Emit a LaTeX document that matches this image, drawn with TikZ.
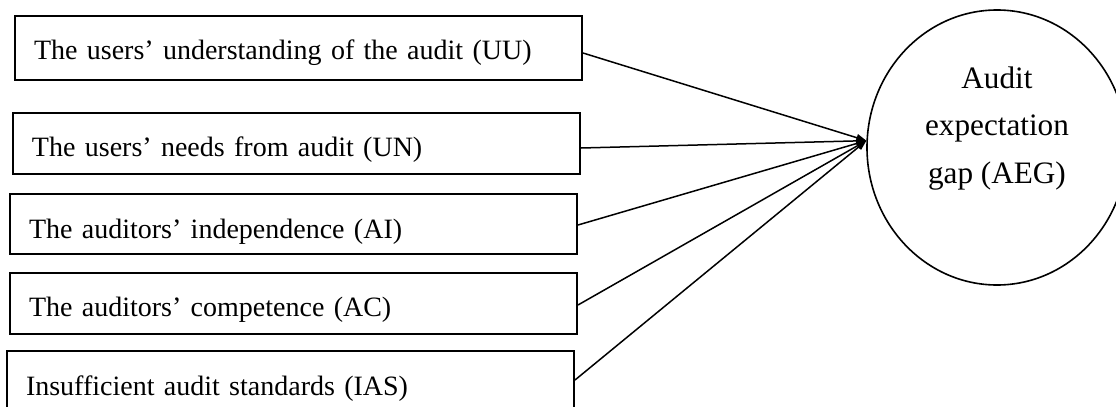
\documentclass[tikz,border=0pt]{standalone}
\usepackage{fontspec}
\setmainfont{Liberation Serif}
\usetikzlibrary{arrows.meta,shapes.geometric}
\tikzset{
  factorbox/.style={draw=black, line width=1pt, anchor=north west,
                    minimum width=283.5pt, text width=264.5pt,
                    inner xsep=9.5pt, inner ysep=0pt, align=left,
                    font=\fontsize{14pt}{17pt}\selectfont},
  gapcircle/.style={draw=black, line width=0.8pt, ellipse,
                    minimum width=130pt, minimum height=137.5pt, inner sep=0pt,
                    text height=12pt, text depth=71.5pt,
                    font=\fontsize{15.6pt}{23.75pt}\selectfont},
  flow/.style={-{Triangle[length=5pt,width=3.6pt]}, line width=0.75pt},
}
\begin{document}
\begin{tikzpicture}[x=0.5pt,y=-0.5pt]
  \useasboundingbox (0,0) rectangle (1116,407);

  % Factors on the left.
  \node[factorbox, text height=22pt, text depth=10pt] (UU) at (14,15)
    {The users’ understanding of the audit (UU)};
  \node[factorbox, text height=21.5pt, text depth=9pt] (UN) at (12,112)
    {The users’ needs from audit (UN)};
  \node[factorbox, text height=22pt, text depth=8pt] (AI) at (9,193)
    {The auditors’ independence (AI)};
  \node[factorbox, text height=21.5pt, text depth=9pt] (AC) at (9,272)
    {The auditors’ competence (AC)};
  \node[factorbox, text height=22pt, text depth=9pt] (IAS) at (6,350)
    {Insufficient audit standards (IAS)};

  % Dependent construct.
  \node[gapcircle] (AEG) at (997,147.5)
    {\begin{tabular}[t]{@{}c@{}}Audit\\expectation\\gap (AEG)\end{tabular}};

  \draw[flow] ([yshift=-19pt]UU.north east) -- (AEG.177);
  \draw[flow] ([yshift=-18pt]UN.north east) -- (AEG.177);
  \draw[flow] ([yshift=-16pt]AI.north east) -- (AEG.177);
  \draw[flow] ([yshift=-16.5pt]AC.north east) -- (AEG.177);
  \draw[flow] ([yshift=-15pt]IAS.north east) -- (AEG.177);
\end{tikzpicture}
\end{document}
